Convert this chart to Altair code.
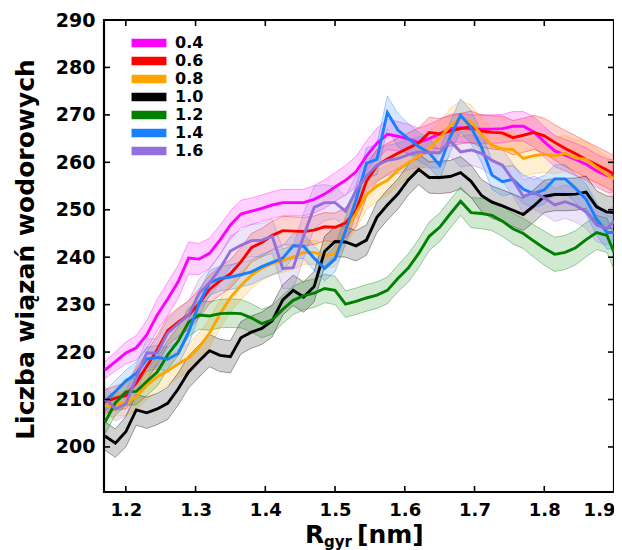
import altair as alt
import pandas as pd

# ---------------- data ----------------
x_vals = [1.170, 1.185, 1.200, 1.215, 1.230, 1.245, 1.260, 1.275, 1.290, 1.305,
          1.320, 1.335, 1.350, 1.365, 1.380, 1.395, 1.410, 1.425, 1.440, 1.455,
          1.470, 1.485, 1.500, 1.515, 1.530, 1.545, 1.560, 1.575, 1.590, 1.605,
          1.620, 1.635, 1.650, 1.665, 1.680, 1.695, 1.710, 1.725, 1.740, 1.755,
          1.770, 1.785, 1.800, 1.815, 1.830, 1.845, 1.860, 1.875, 1.890, 1.900]

series_names = ["0.4", "0.6", "0.8", "1.0", "1.2", "1.4", "1.6"]
series_colors = ["#ff00ff", "#ff0000", "#ffa500", "#000000", "#008000", "#1a7fff", "#9370db"]

y_04 = [216.2, 218.0, 219.8, 220.9, 223.6, 227.8, 231.2, 234.8, 239.8, 239.6,
        240.8, 243.6, 246.8, 249.1, 249.7, 250.3, 251.0, 251.5, 251.5, 251.5,
        252.2, 253.3, 254.8, 256.2, 258.0, 261.3, 264.0, 265.9, 265.5, 264.9,
        264.2, 265.0, 266.0, 267.1, 267.3, 267.0, 267.0, 267.0, 267.1, 267.6,
        267.6, 266.4, 264.3, 262.4, 261.5, 260.6, 259.6, 258.2, 257.2, 257.0]
y_06 = [209.5, 210.3, 210.8, 213.5, 217.0, 220.5, 224.5, 226.3, 227.8, 230.2,
        233.2, 235.0, 236.5, 239.0, 242.0, 243.1, 244.6, 245.6, 245.5, 245.4,
        245.7, 246.4, 246.3, 247.2, 249.8, 256.0, 259.3, 260.7, 261.9, 263.0,
        264.1, 266.3, 266.0, 266.6, 267.1, 267.5, 266.6, 266.3, 266.2, 265.2,
        265.7, 266.3, 265.6, 264.2, 262.9, 261.8, 260.6, 259.5, 258.4, 257.5]
y_08 = [208.5, 209.0, 209.2, 210.5, 213.0, 214.8, 216.0, 217.5, 218.8, 221.0,
        224.0, 228.0, 231.5, 234.0, 236.2, 237.7, 238.7, 239.3, 240.0, 241.0,
        241.0, 240.3, 240.8, 245.6, 249.2, 253.2, 255.0, 256.2, 258.3, 259.9,
        261.3, 263.0, 265.1, 267.7, 269.4, 268.5, 265.8, 263.6, 262.8, 262.7,
        260.8, 261.4, 261.7, 261.4, 261.9, 260.9, 260.6, 259.0, 257.4, 256.5]
y_10 = [202.3, 200.8, 203.2, 207.8, 207.2, 208.0, 209.2, 212.2, 215.8, 218.1,
        220.3, 219.3, 219.0, 223.0, 224.2, 225.0, 226.6, 231.0, 233.0, 231.6,
        233.8, 241.2, 243.3, 243.2, 242.4, 243.6, 248.4, 251.0, 253.3, 256.3,
        258.5, 256.8, 256.8, 257.0, 257.8, 256.0, 253.0, 251.6, 250.8, 249.9,
        249.0, 250.8, 252.8, 253.2, 253.2, 253.3, 253.7, 250.6, 249.5, 249.4]
y_12 = [205.2, 209.3, 211.6, 211.7, 213.8, 215.8, 219.4, 222.3, 226.3, 227.8,
        227.6, 228.1, 228.2, 228.1, 227.2, 226.0, 226.8, 229.0, 230.9, 231.9,
        232.4, 233.4, 233.0, 230.1, 230.7, 231.4, 232.0, 233.0, 235.5, 237.7,
        240.8, 244.4, 246.3, 249.1, 251.8, 249.4, 249.2, 248.8, 247.6, 246.0,
        245.0, 243.4, 241.9, 240.6, 241.0, 242.0, 243.7, 245.2, 244.6, 241.0]
y_14 = [209.6, 211.7, 213.9, 215.5, 218.5, 218.9, 218.5, 219.7, 224.2, 230.2,
        234.6, 235.5, 235.8, 236.3, 236.9, 238.0, 238.9, 239.8, 242.4, 242.3,
        239.8, 237.6, 239.6, 245.5, 252.0, 259.8, 260.6, 270.5, 266.8, 265.0,
        263.3, 262.0, 259.4, 265.3, 269.9, 267.4, 263.2, 257.3, 255.9, 256.4,
        254.3, 253.4, 254.2, 256.5, 256.5, 254.5, 252.2, 248.0, 245.2, 245.2]
y_16 = [210.3, 208.0, 209.1, 214.5, 219.8, 219.8, 224.0, 226.0, 227.8, 232.4,
        234.6, 237.6, 241.3, 242.5, 243.5, 243.6, 244.4, 237.6, 237.8, 244.5,
        250.5, 251.5, 251.5, 249.7, 254.0, 257.2, 259.4, 260.4, 260.8, 261.6,
        262.2, 262.0, 262.0, 264.5, 262.2, 262.6, 261.9, 260.4, 259.4, 256.3,
        252.8, 253.6, 252.5, 251.0, 251.7, 250.9, 249.6, 246.8, 246.0, 247.6]

# half widths of the shaded bands
e_04 = [1.8, 2.0, 2.3, 2.6, 3.0, 3.3, 3.5, 3.5, 3.4, 3.3,
        3.2, 3.1, 3.0, 2.9, 2.8, 2.8, 2.8, 2.8, 2.8, 2.8,
        2.9, 3.0, 3.0, 3.1, 3.2, 3.2, 3.2, 3.2, 3.1, 3.1,
        3.0, 3.0, 3.0, 3.0, 3.0, 3.0, 3.0, 3.0, 3.0, 3.1,
        3.1, 3.2, 3.2, 3.3, 3.3, 3.4, 3.4, 3.5, 3.5, 3.5]
e_06 = [2.5, 2.5, 2.8, 3.0, 3.0, 3.0, 3.0, 3.0, 3.0, 3.0,
        3.0, 3.0, 3.0, 3.0, 3.0, 3.0, 3.0, 3.0, 3.0, 3.0,
        3.0, 3.0, 3.0, 3.2, 3.4, 3.4, 3.4, 3.3, 3.2, 3.2,
        3.2, 3.2, 3.2, 3.2, 3.2, 3.3, 3.4, 3.5, 3.6, 3.6,
        3.6, 3.6, 3.7, 3.7, 3.8, 3.8, 3.8, 3.8, 3.8, 3.8]
e_08 = [2.5, 2.5, 2.6, 2.8, 3.0, 3.0, 3.0, 3.0, 3.0, 3.0,
        3.0, 3.0, 3.0, 3.0, 2.8, 2.6, 2.5, 2.5, 2.5, 2.5,
        2.5, 2.6, 2.8, 3.0, 3.2, 3.2, 3.2, 3.2, 3.2, 3.2,
        3.2, 3.3, 3.5, 3.6, 3.6, 3.6, 3.5, 3.5, 3.5, 3.6,
        3.8, 3.8, 3.8, 3.8, 3.8, 3.8, 3.8, 3.8, 3.8, 3.8]
e_10 = [3.0, 3.0, 3.2, 3.2, 3.3, 3.3, 3.4, 3.4, 3.4, 3.4,
        3.4, 3.4, 3.4, 3.4, 3.4, 3.4, 3.4, 3.2, 3.2, 3.2,
        3.2, 3.2, 3.2, 3.2, 3.2, 3.2, 3.2, 3.2, 3.2, 3.2,
        3.2, 3.3, 3.4, 3.4, 3.4, 3.4, 3.4, 3.4, 3.4, 3.4,
        3.4, 3.4, 3.4, 3.4, 3.4, 3.4, 3.4, 3.4, 3.4, 3.4]
e_12 = [2.5, 2.6, 2.8, 2.8, 3.0, 3.0, 3.0, 3.0, 3.0, 3.0,
        3.0, 3.0, 3.0, 3.0, 3.0, 3.0, 3.0, 3.0, 3.0, 3.0,
        3.0, 3.0, 3.0, 2.8, 2.8, 2.8, 2.8, 2.8, 2.8, 3.0,
        3.0, 3.0, 3.0, 3.0, 3.0, 3.2, 3.2, 3.2, 3.2, 3.2,
        3.2, 3.4, 3.6, 3.6, 3.6, 3.6, 3.6, 3.6, 3.6, 3.6]
e_14 = [2.2, 2.3, 2.3, 2.4, 2.5, 2.5, 2.5, 2.5, 2.6, 2.6,
        2.6, 2.6, 2.6, 2.6, 2.6, 2.6, 2.6, 2.6, 2.6, 2.6,
        2.6, 2.6, 2.7, 2.8, 3.0, 3.2, 3.2, 3.5, 3.5, 3.2,
        3.0, 3.0, 3.0, 3.2, 3.5, 3.5, 3.2, 3.0, 3.0, 3.0,
        3.0, 3.0, 3.0, 3.0, 3.0, 3.0, 3.2, 3.4, 3.5, 3.5]
e_16 = [2.4, 2.5, 2.6, 2.8, 3.0, 3.0, 3.0, 3.0, 3.0, 3.0,
        3.0, 3.0, 3.2, 3.2, 3.4, 3.5, 3.6, 4.2, 4.5, 4.8,
        4.5, 3.8, 3.4, 3.2, 3.2, 3.2, 3.2, 3.2, 3.2, 3.2,
        3.2, 3.2, 3.2, 3.2, 3.2, 3.2, 3.2, 3.2, 3.3, 3.4,
        3.5, 3.5, 3.5, 3.5, 3.5, 3.5, 3.5, 3.5, 3.5, 3.5]

x_ticks = [1.2, 1.3, 1.4, 1.5, 1.6, 1.7, 1.8, 1.9]
y_ticks = [200, 210, 220, 230, 240, 250, 260, 270, 280, 290]

# ---------------- table ----------------
all_y = [y_04, y_06, y_08, y_10, y_12, y_14, y_16]
all_e = [e_04, e_06, e_08, e_10, e_12, e_14, e_16]
rows = []
for name, ys, es in zip(series_names, all_y, all_e):
    for xv, yv, ev in zip(x_vals, ys, es):
        rows.append({"x": xv, "y": yv, "lo": yv - ev, "hi": yv + ev, "s": name})
df = pd.DataFrame(rows)

W, H = 510, 472
FONT = "DejaVu Sans"
xscale = alt.Scale(domain=[1.1687, 1.9], nice=False, zero=False)
yscale = alt.Scale(domain=[190.5, 290], nice=False, zero=False)
cscale = alt.Scale(domain=series_names, range=series_colors)

x_axis = alt.Axis(values=x_ticks, format=".1f", title=None, domain=False, ticks=False,
                  grid=False, labelFont=FONT, labelFontSize=18, labelFontWeight="bold",
                  labelColor="black", labelPadding=9, labelFlush=True, labelFlushOffset=1)
y_axis = alt.Axis(values=y_ticks, format="d", title="Liczba wiązań wodorowych",
                  titleFont=FONT, titleFontSize=25, titleFontWeight="bold", titleColor="black",
                  titleAngle=270, titleX=-71, titleY=229, titleAlign="center",
                  titleBaseline="alphabetic", domain=False, ticks=False, grid=False,
                  labelFont=FONT, labelFontSize=19, labelFontWeight="bold",
                  labelColor="black", labelPadding=9)

legend = alt.Legend(title=None, orient="none", legendX=37, legendY=15, padding=0,
                    direction="vertical",
                    symbolType="M-3.2,-0.55L3.2,-0.55L3.2,0.55L-3.2,0.55Z",
                    symbolSize=100, symbolStrokeColor="#333333", symbolStrokeWidth=1.2,
                    symbolOpacity=1, labelFont=FONT, labelFontSize=16,
                    labelFontWeight="bold", labelColor="black", labelOffset=18,
                    rowPadding=0)

base = alt.Chart(df)
X = alt.X("x:Q", scale=xscale, axis=x_axis)

band = base.mark_area(clip=True).encode(
    x=X,
    y=alt.Y("lo:Q", scale=yscale, axis=y_axis),
    y2="hi:Q",
    fill=alt.Fill("s:N", scale=cscale, legend=legend),
    fillOpacity=alt.value(0.18),
)

edge_lo = base.mark_line(clip=True, strokeWidth=0.8, strokeOpacity=0.45).encode(
    x=X, y=alt.Y("lo:Q", scale=yscale, axis=y_axis),
    stroke=alt.Stroke("s:N", scale=cscale, legend=None),
)
edge_hi = base.mark_line(clip=True, strokeWidth=0.8, strokeOpacity=0.45).encode(
    x=X, y=alt.Y("hi:Q", scale=yscale, axis=y_axis),
    stroke=alt.Stroke("s:N", scale=cscale, legend=None),
)

line = base.mark_line(clip=True).encode(
    x=X,
    y=alt.Y("y:Q", scale=yscale, axis=y_axis),
    stroke=alt.Stroke("s:N", scale=cscale, legend=None),
    strokeWidth=alt.StrokeWidth("s:N", scale=alt.Scale(domain=series_names,
                                range=[2.9, 2.9, 2.9, 3.6, 2.9, 2.9, 2.9]), legend=None),
)

xt = alt.Chart(pd.DataFrame({"t": x_ticks}))
yt = alt.Chart(pd.DataFrame({"t": y_ticks}))
TL = 6
XT = alt.X("t:Q", scale=xscale, axis=x_axis)
YT = alt.Y("t:Q", scale=yscale, axis=y_axis)
xtick_b = xt.mark_rule(color="black", strokeWidth=1.6).encode(
    x=XT, y=alt.value(H - TL), y2=alt.value(H))
xtick_t = xt.mark_rule(color="black", strokeWidth=1.6).encode(
    x=XT, y=alt.value(0), y2=alt.value(TL))
ytick_l = yt.mark_rule(color="black", strokeWidth=1.6).encode(
    y=YT, x=alt.value(0), x2=alt.value(TL))
ytick_r = yt.mark_rule(color="black", strokeWidth=1.6).encode(
    y=YT, x=alt.value(W - TL), x2=alt.value(W))

one = alt.Chart(pd.DataFrame({"a": [0]}))
t_r = one.mark_text(text="R", font=FONT, fontSize=25, fontWeight="bold", color="black",
                    align="left", baseline="alphabetic").encode(
    x=alt.value(201), y=alt.value(H + 51))
t_sub = one.mark_text(text="gyr", font=FONT, fontSize=15, fontWeight="bold", color="black",
                      align="left", baseline="alphabetic").encode(
    x=alt.value(220), y=alt.value(H + 55))
t_nm = one.mark_text(text="[nm]", font=FONT, fontSize=25, fontWeight="bold", color="black",
                     align="left", baseline="alphabetic").encode(
    x=alt.value(253), y=alt.value(H + 51))

chart = alt.layer(band, edge_lo, edge_hi, line, xtick_b, xtick_t, ytick_l, ytick_r,
                  t_r, t_sub, t_nm).properties(
    width=W, height=H,
    padding={"left": 96, "top": 12, "right": 0, "bottom": 58},
    autosize=alt.AutoSizeParams(type="none"),
).configure_view(stroke="black", strokeWidth=2.2)

chart.save("out.html", embed_options={"renderer": "svg", "actions": False})
